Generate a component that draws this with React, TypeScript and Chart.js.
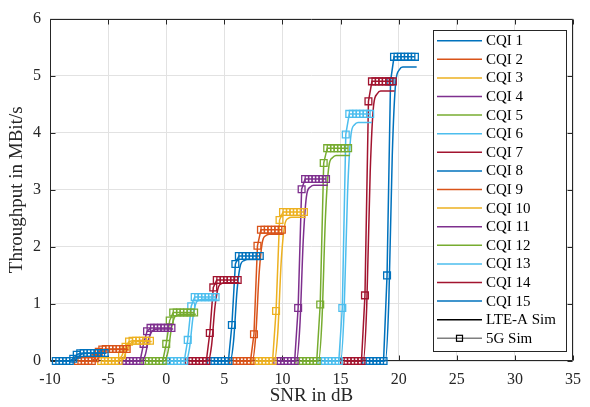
import React, { useEffect, useRef } from 'react';
import Chart from 'chart.js/auto';

const cqiLabels = ['CQI 1', 'CQI 2', 'CQI 3', 'CQI 4', 'CQI 5', 'CQI 6', 'CQI 7', 'CQI 8', 'CQI 9', 'CQI 10', 'CQI 11', 'CQI 12', 'CQI 13', 'CQI 14', 'CQI 15'];
const cqiColors = ['#0072BD', '#D95319', '#EDB120', '#7E2F8E', '#77AC30', '#4DBEEE', '#A2142F', '#0072BD', '#D95319', '#EDB120', '#7E2F8E', '#77AC30', '#4DBEEE', '#A2142F', '#0072BD'];

// SNR sweep start (dB) per CQI and the sweep offsets (dB)
const sweepStart5G = [-9.5, -7.6, -5.6, -3.75, -1.8, 0.05, 1.95, 3.85, 5.75, 7.65, 9.55, 11.45, 13.35, 15.3, 17.2];
const sweepStartLTE = [-9.35, -7.45, -5.45, -3.6, -1.65, 0.2, 2.1, 4.0, 5.9, 7.8, 9.7, 11.6, 13.5, 15.45, 17.35];
const sweepOffsets = [0, 0.3, 0.6, 0.9, 1.2, 1.5, 1.8, 2.1, 2.4, 2.7, 3.0, 3.3, 3.6, 3.9, 4.2];

// 5G Sim throughput (MBit/s)
const tput5G = [
  [0, 0, 0, 0, 0, 0.04, 0.11, 0.135, 0.14, 0.14, 0.14, 0.14, 0.14, 0.14, 0.14],
  [0, 0, 0, 0, 0, 0.05, 0.16, 0.2, 0.21, 0.21, 0.21, 0.21, 0.21, 0.21, 0.21],
  [0, 0, 0, 0, 0, 0, 0.1, 0.25, 0.34, 0.355, 0.355, 0.355, 0.355, 0.355, 0.355],
  [0, 0, 0, 0, 0, 0, 0.3, 0.52, 0.58, 0.58, 0.58, 0.58, 0.58, 0.58, 0.58],
  [0, 0, 0, 0, 0, 0, 0.3, 0.71, 0.85, 0.85, 0.85, 0.85, 0.85, 0.85, 0.85],
  [0, 0, 0, 0, 0, 0, 0.37, 0.96, 1.12, 1.12, 1.12, 1.12, 1.12, 1.12, 1.12],
  [0, 0, 0, 0, 0, 0, 0.49, 1.29, 1.42, 1.42, 1.42, 1.42, 1.42, 1.42, 1.42],
  [0, 0, 0, 0, 0, 0, 0.63, 1.7, 1.84, 1.84, 1.84, 1.84, 1.84, 1.84, 1.84],
  [0, 0, 0, 0, 0, 0, 0.47, 2.02, 2.3, 2.3, 2.3, 2.3, 2.3, 2.3, 2.3],
  [0, 0, 0, 0, 0, 0, 0.875, 2.47, 2.61, 2.61, 2.61, 2.61, 2.61, 2.61, 2.61],
  [0, 0, 0, 0, 0, 0, 0.93, 3.01, 3.19, 3.19, 3.19, 3.19, 3.19, 3.19, 3.19],
  [0, 0, 0, 0, 0, 0, 0.99, 3.47, 3.73, 3.73, 3.73, 3.73, 3.73, 3.73, 3.73],
  [0, 0, 0, 0, 0, 0, 0.93, 3.97, 4.33, 4.33, 4.33, 4.33, 4.33, 4.33, 4.33],
  [0, 0, 0, 0, 0, 0, 1.15, 4.55, 4.9, 4.9, 4.9, 4.9, 4.9, 4.9, 4.9],
  [0, 0, 0, 0, 0, 0, 1.5, 4.9, 5.33, 5.33, 5.33, 5.33, 5.33, 5.33, 5.33],
];

// LTE-A Sim throughput (MBit/s)
const tputLTE = [
  [0, 0, 0, 0, 0, 0.02, 0.08, 0.122, 0.132, 0.135, 0.135, 0.135, 0.135, 0.135, 0.135],
  [0, 0, 0, 0, 0, 0.03, 0.12, 0.18, 0.195, 0.2, 0.2, 0.2, 0.2, 0.2, 0.2],
  [0, 0, 0, 0, 0, 0, 0.06, 0.22, 0.31, 0.335, 0.34, 0.34, 0.34, 0.34, 0.34],
  [0, 0, 0, 0, 0, 0, 0.11, 0.39, 0.53, 0.555, 0.56, 0.56, 0.56, 0.56, 0.56],
  [0, 0, 0, 0, 0, 0, 0.16, 0.57, 0.78, 0.81, 0.82, 0.82, 0.82, 0.82, 0.82],
  [0, 0, 0, 0, 0, 0, 0.22, 0.76, 1.03, 1.07, 1.08, 1.08, 1.08, 1.08, 1.08],
  [0, 0, 0, 0, 0, 0, 0.27, 0.96, 1.3, 1.36, 1.37, 1.37, 1.37, 1.37, 1.37],
  [0, 0, 0, 0, 0, 0, 0.36, 1.25, 1.69, 1.76, 1.78, 1.78, 1.78, 1.78, 1.78],
  [0, 0, 0, 0, 0, 0, 0.44, 1.55, 2.11, 2.2, 2.22, 2.22, 2.22, 2.22, 2.22],
  [0, 0, 0, 0, 0, 0, 0.5, 1.76, 2.39, 2.5, 2.52, 2.52, 2.52, 2.52, 2.52],
  [0, 0, 0, 0, 0, 0, 0.62, 2.16, 2.93, 3.05, 3.08, 3.08, 3.08, 3.08, 3.08],
  [0, 0, 0, 0, 0, 0, 0.72, 2.52, 3.42, 3.56, 3.6, 3.6, 3.6, 3.6, 3.6],
  [0, 0, 0, 0, 0, 0, 0.84, 2.93, 3.97, 4.14, 4.18, 4.18, 4.18, 4.18, 4.18],
  [0, 0, 0, 0, 0, 0, 0.95, 3.31, 4.49, 4.68, 4.73, 4.73, 4.73, 4.73, 4.73],
  [0, 0, 0, 0, 0, 0, 1.03, 3.61, 4.89, 5.1, 5.15, 5.15, 5.15, 5.15, 5.15],
];

const dummyMarker = [{ x: 0, y: 0 }];

const xTickValues = [-10, -5, 0, 5, 10, 15, 20, 25, 30, 35];
const xTickLabels = ['-10', '-5', '0', '5', '10', '15', '20', '25', '30', '35'];
const yTickValues = [0, 1, 2, 3, 4, 5, 6];
const yTickLabels = ['0', '1', '2', '3', '4', '5', '6'];

const legendExtra = ['LTE-A Sim', '5G Sim'];

const SERIF = '"Liberation Serif", "Times New Roman", serif';
const AX = '#262626';

const boxPlugin = {
  id: 'matlabBox',
  beforeDatasetsDraw(chart: any) {
    const { ctx, chartArea: a, scales } = chart;
    const l = Math.round(a.left) + 0.5;
    const r = Math.round(a.right) - 0.5;
    const t = Math.round(a.top) + 0.5;
    const b = Math.round(a.bottom) - 0.5;
    ctx.save();
    ctx.strokeStyle = AX;
    ctx.lineWidth = 1;
    ctx.beginPath();
    ctx.rect(l, t, r - l, b - t);
    const tl = 5;
    xTickValues.forEach((v) => {
      const px = Math.round(scales.x.getPixelForValue(v)) + 0.5;
      ctx.moveTo(px, b);
      ctx.lineTo(px, b - tl);
      ctx.moveTo(px, t);
      ctx.lineTo(px, t + tl);
    });
    yTickValues.forEach((v) => {
      const py = Math.round(scales.y.getPixelForValue(v)) + 0.5;
      ctx.moveTo(l, py);
      ctx.lineTo(l + tl, py);
      ctx.moveTo(r, py);
      ctx.lineTo(r - tl, py);
    });
    ctx.stroke();
    ctx.restore();
  },
  afterDatasetsDraw(chart: any) {
    const { ctx } = chart;
    const bx = 433.5, by = 30.5, bw = 133, bh = 321;
    ctx.save();
    ctx.fillStyle = '#ffffff';
    ctx.fillRect(bx, by, bw, bh);
    ctx.strokeStyle = AX;
    ctx.lineWidth = 1;
    ctx.strokeRect(bx, by, bw, bh);
    const entries = [
      ...cqiLabels.map((lab, i) => ({ lab, color: cqiColors[i], marker: false })),
      { lab: legendExtra[0], color: '#000000', marker: false },
      { lab: legendExtra[1], color: '#7f7f7f', marker: true },
    ];
    ctx.font = `15px ${SERIF}`;
    ctx.textBaseline = 'middle';
    ctx.textAlign = 'left';
    entries.forEach((e, i) => {
      const cy = 40.7 + i * 18.6;
      ctx.strokeStyle = e.color;
      ctx.lineWidth = 1.5;
      ctx.beginPath();
      ctx.moveTo(437, cy);
      ctx.lineTo(482, cy);
      ctx.stroke();
      if (e.marker) {
        ctx.strokeStyle = '#000000';
        ctx.lineWidth = 1.2;
        ctx.strokeRect(456.5, cy - 3, 6, 6);
      }
      ctx.fillStyle = '#000000';
      ctx.fillText(e.lab, 486, cy + 0.5);
    });
    ctx.restore();
  },
};

export default function App() {
  const ref = useRef<HTMLCanvasElement | null>(null);
  useEffect(() => {
    document.body.style.margin = '0';
    const canvas = ref.current;
    if (!canvas) return;
    const datasets: any[] = [];
    cqiLabels.forEach((lab, i) => {
      datasets.push({
        label: lab + ' LTE-A',
        data: sweepOffsets.map((o, k) => ({ x: sweepStartLTE[i] + o, y: tputLTE[i][k] })),
        borderColor: cqiColors[i],
        backgroundColor: cqiColors[i],
        borderWidth: 1.5,
        pointRadius: 0,
        cubicInterpolationMode: 'monotone',
        clip: false,
      });
      datasets.push({
        label: lab + ' 5G',
        data: sweepOffsets.map((o, k) => ({ x: sweepStart5G[i] + o, y: tput5G[i][k] })),
        borderColor: cqiColors[i],
        backgroundColor: 'rgba(0,0,0,0)',
        borderWidth: 1.5,
        pointStyle: 'rect',
        pointRadius: 4.8,
        pointBorderWidth: 1.3,
        pointBorderColor: cqiColors[i],
        pointBackgroundColor: 'rgba(0,0,0,0)',
        tension: 0,
        clip: false,
      });
    });
    datasets.push({
      label: '5G Sim dummy',
      data: dummyMarker,
      borderColor: '#000000',
      showLine: false,
      pointStyle: 'rect',
      pointRadius: 4.8,
      pointBorderWidth: 1.4,
      pointBorderColor: '#000000',
      pointBackgroundColor: 'rgba(0,0,0,0)',
      clip: false,
    });

    const chart = new Chart(canvas, {
      type: 'line',
      data: { datasets },
      options: {
        animation: false,
        responsive: false,
        devicePixelRatio: 1,
        layout: { padding: { left: 0, right: 9, top: 14, bottom: 0 } },
        plugins: { legend: { display: false }, tooltip: { enabled: false } },
        elements: { line: { fill: false } },
        scales: {
          x: {
            type: 'linear',
            min: -10,
            max: 35,
            afterBuildTicks: (s: any) => {
              s.ticks = xTickValues.map((v) => ({ value: v }));
            },
            afterFit: (s: any) => {
              s.height = 46;
            },
            grid: { color: '#e2e2e2', lineWidth: 1, drawTicks: false },
            border: { display: false },
            ticks: {
              autoSkip: false,
              maxRotation: 0,
              padding: 9,
              color: AX,
              font: { family: SERIF, size: 16 },
              callback: (_v: any, idx: number) => xTickLabels[idx],
            },
            title: {
              display: true,
              text: 'SNR in dB',
              color: AX,
              font: { family: SERIF, size: 19, lineHeight: 1 },
              padding: { top: 0, bottom: 1 },
            },
          },
          y: {
            type: 'linear',
            min: 0,
            max: 6,
            afterBuildTicks: (s: any) => {
              s.ticks = yTickValues.map((v) => ({ value: v }));
            },
            afterFit: (s: any) => {
              s.width = 50;
            },
            grid: { color: '#e2e2e2', lineWidth: 1, drawTicks: false },
            border: { display: false },
            ticks: {
              autoSkip: false,
              padding: 9,
              color: AX,
              font: { family: SERIF, size: 16 },
              callback: (_v: any, idx: number) => yTickLabels[idx],
            },
            title: {
              display: true,
              text: 'Throughput in MBit/s',
              color: AX,
              font: { family: SERIF, size: 19 },
              padding: { top: 5.3, bottom: 0 },
            },
          },
        },
      },
      plugins: [boxPlugin],
    });
    return () => chart.destroy();
  }, []);
  return <canvas ref={ref} width={590} height={407} style={{ display: 'block', width: 590, height: 407 }} />;
}
